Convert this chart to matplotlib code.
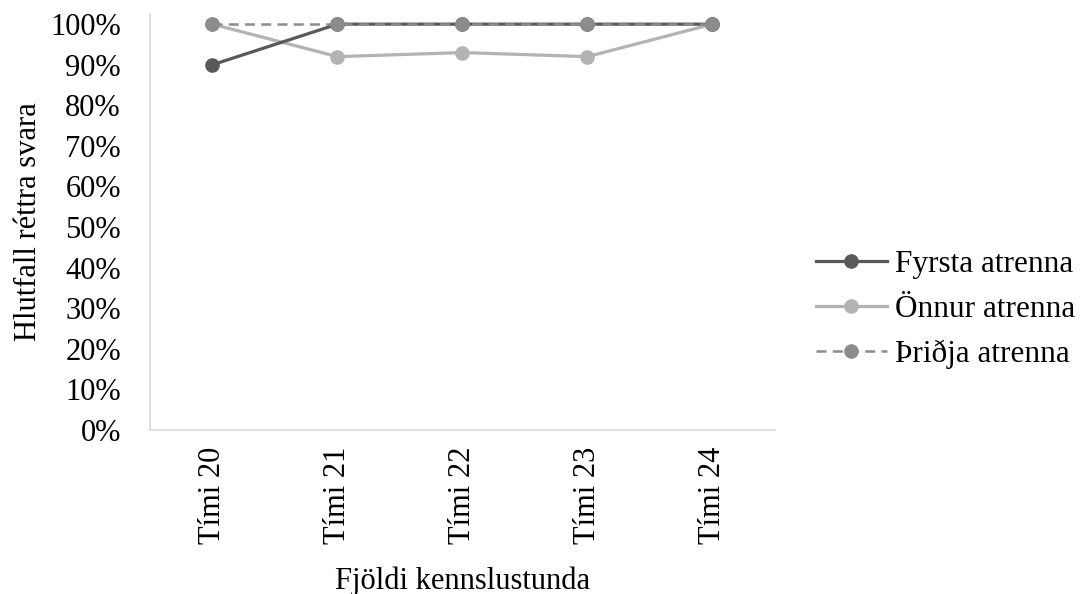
import matplotlib
matplotlib.use("Agg")
import matplotlib.pyplot as plt
from matplotlib.ticker import PercentFormatter

# data
categories = ["Tími 20", "Tími 21", "Tími 22", "Tími 23", "Tími 24"]
fyrsta = [0.90, 1.00, 1.00, 1.00, 1.00]
onnur = [1.00, 0.92, 0.93, 0.92, 1.00]
thridja = [1.00, 1.00, 1.00, 1.00, 1.00]

FS = 22
plt.rcParams.update({"font.family": "Liberation Serif", "font.size": FS})

fig = plt.figure(figsize=(10.82, 5.94), dpi=100)
ax = fig.add_axes([0.1386, 0.2761, 0.5776, 0.7003])

X = list(range(len(categories)))
ax.plot(X, fyrsta, "-o", color="#595959", lw=2.3, ms=9.5, label="Fyrsta atrenna", zorder=3)
ax.plot(X, onnur, "-o", color="#b3b3b3", lw=2.3, ms=9.5, label="Önnur atrenna", zorder=2)
ax.plot(X, thridja, "--o", color="#8c8c8c", lw=1.8, ms=9.5, dashes=(4, 2.5),
        label="Þriðja atrenna", zorder=4)

ax.set_xlim(-0.5, len(categories) - 0.5)
ax.set_ylim(0, 1.025)
ax.set_yticks([i / 10 for i in range(11)])
ax.yaxis.set_major_formatter(PercentFormatter(1.0, decimals=0))
ax.set_xticks(X)
ax.set_xticklabels(categories, rotation=90)
ax.tick_params(length=0, labelsize=FS, colors="black")
ax.tick_params(axis="y", pad=21)
ax.tick_params(axis="x", pad=12)

for s in ("top", "right"):
    ax.spines[s].set_visible(False)
for s in ("left", "bottom"):
    ax.spines[s].set_color("#d9d9d9")
    ax.spines[s].set_linewidth(1.2)

ax.set_xlabel("Fjöldi kennslustunda", fontsize=FS, labelpad=16)
ax.set_ylabel("Hlutfall réttra svara", fontsize=FS, labelpad=5)

ax.legend(loc="center left", bbox_to_anchor=(1.02, 0.29), frameon=False, fontsize=22.5,
          handlelength=2.3, handletextpad=0.25, labelspacing=0.5)

fig.savefig("out.png", dpi=100)
